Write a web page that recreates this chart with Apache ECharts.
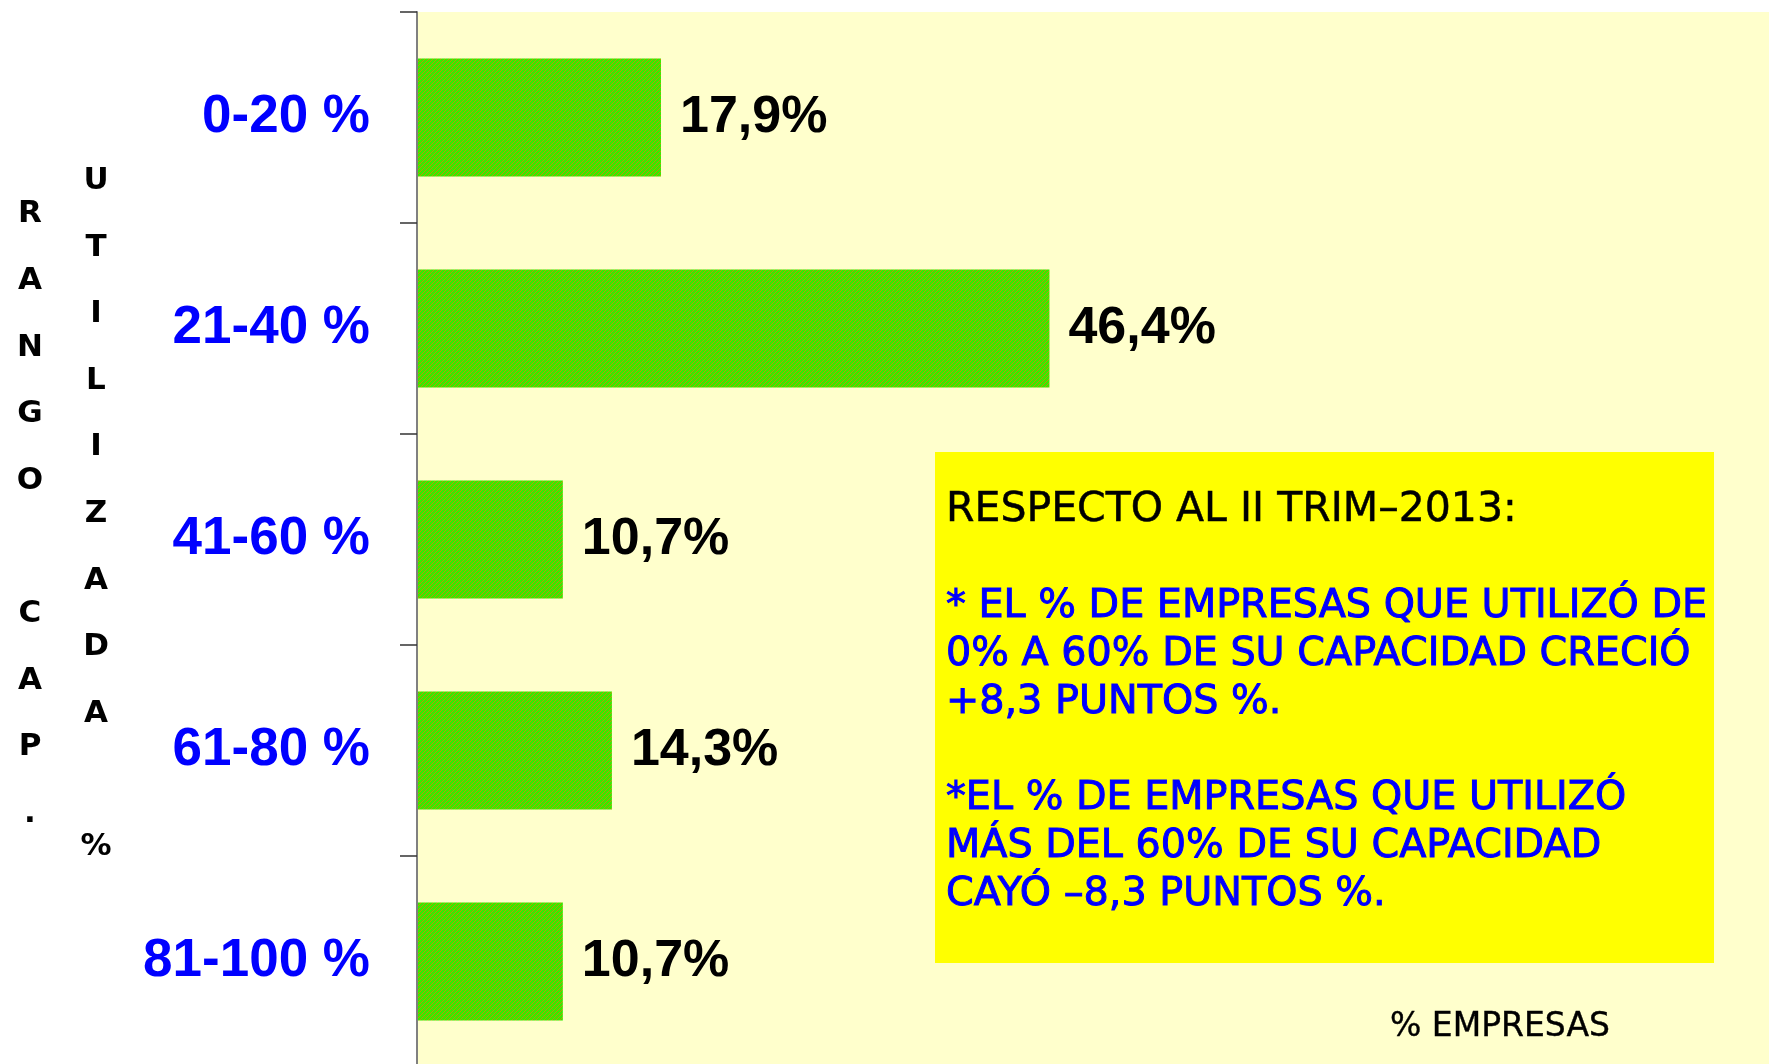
<!DOCTYPE html>
<html lang="es">
<head>
    <meta charset="UTF-8">
    <title>Rango de capacidad utilizada</title>
    <script src="https://cdn.jsdelivr.net/npm/echarts@6/dist/echarts.min.js"></script>
    <style>
        html, body { margin: 0; padding: 0; background: #ffffff; }
        #chartmain { width: 1769px; height: 1064px; }
    </style>
</head>
<body>
<div id="chartmain"></div>
<script type="text/javascript">
    // datos
    var rangos = ['0-20 %', '21-40 %', '41-60 %', '61-80 %', '81-100 %'];
    var empresas = [17.9, 46.4, 10.7, 14.3, 10.7];
    var tituloEje1 = 'RANGO CAP.';
    var tituloEje2 = 'UTILIZADA %';
    var tituloX = '% EMPRESAS';
    var notaLineas = [
        'RESPECTO AL II TRIM–2013:',
        '',
        '* EL % DE EMPRESAS QUE UTILIZÓ DE',
        '0% A 60% DE SU CAPACIDAD CRECIÓ',
        '+8,3 PUNTOS %.',
        '',
        '*EL % DE EMPRESAS QUE UTILIZÓ',
        'MÁS DEL 60% DE SU CAPACIDAD',
        'CAYÓ –8,3 PUNTOS %.'
    ];

    // textura verde de las barras
    function textura() {
        var c = document.createElement('canvas');
        c.width = 4; c.height = 4;
        var ctx = c.getContext('2d');
        ctx.fillStyle = '#36ea00';
        ctx.fillRect(0, 0, 4, 4);
        ctx.fillStyle = '#b89a00';
        for (var i = 0; i < 4; i++) {
            ctx.fillRect((3 - i), i, 1, 1);
        }
        return c;
    }

    // letras una debajo de otra, centradas en (x, yc)
    function letrasVerticales(txt, x, yc) {
        var paso = 66.6;
        var letras = txt.split('');
        var y0 = yc - (letras.length - 1) * paso / 2;
        return letras.map(function (l, i) {
            return {
                type: 'text', x: x, y: y0 + i * paso,
                style: {
                    text: l, font: 'bold 31px "DejaVu Sans"', fill: '#000',
                    align: 'center', verticalAlign: 'middle'
                }
            };
        });
    }

    var graficos = []
        .concat(letrasVerticales(tituloEje1, 30, 514))
        .concat(letrasVerticales(tituloEje2, 96, 514));
    graficos.push({
        type: 'rect', shape: { x: 935, y: 452, width: 779, height: 511 },
        style: { fill: '#ffff00' }, z: 5
    });
    graficos.push({
        type: 'text', x: 1390, y: 1027, z: 6,
        style: {
            text: tituloX, font: '33px "DejaVu Sans"', fill: '#000',
            stroke: '#000', lineWidth: 0.4, verticalAlign: 'middle'
        }
    });
    notaLineas.forEach(function (linea, i) {
        if (!linea) return;
        var negro = i === 0;
        graficos.push({
            type: 'text', x: 946, y: 510 + i * 48.1, z: 6,
            style: {
                text: linea,
                font: (negro ? '41px' : '39.7px') + ' "DejaVu Sans"',
                fill: negro ? '#000000' : '#0000ff',
                stroke: negro ? '#000000' : '#0000ff',
                lineWidth: negro ? 0.5 : 1,
                verticalAlign: 'middle'
            }
        });
    });

    var myChart = echarts.init(document.getElementById('chartmain'));
    var option = {
        backgroundColor: '#ffffff',
        animation: false,
        grid: {
            left: 417, top: 12, width: 1363, height: 1055,
            outerBoundsMode: 'none',
            show: true, backgroundColor: '#ffffcc', borderWidth: 0
        },
        xAxis: {
            type: 'value', min: 0, max: 100, show: false
        },
        yAxis: {
            type: 'category',
            data: rangos,
            inverse: true,
            axisLine: { show: true, lineStyle: { color: '#808080', width: 2 } },
            axisTick: { show: true, length: 17, lineStyle: { color: '#333', width: 1.5 } },
            axisLabel: {
                margin: 47,
                color: '#0000ff',
                fontSize: 53,
                fontWeight: 'bold',
                fontFamily: '"Liberation Sans", Arial, sans-serif'
            },
            z: 3
        },
        series: [{
            type: 'bar',
            data: empresas,
            barCategoryGap: '44%',
            itemStyle: {
                color: { image: textura(), repeat: 'repeat' }
            },
            label: {
                show: true,
                position: 'right',
                distance: 19,
                color: '#000',
                fontSize: 52,
                fontWeight: 'bold',
                fontFamily: '"Liberation Sans", Arial, sans-serif',
                formatter: function (p) {
                    return p.value.toFixed(1).replace('.', ',') + '%';
                }
            }
        }],
        graphic: graficos
    };
    myChart.setOption(option);
</script>
</body>
</html>
